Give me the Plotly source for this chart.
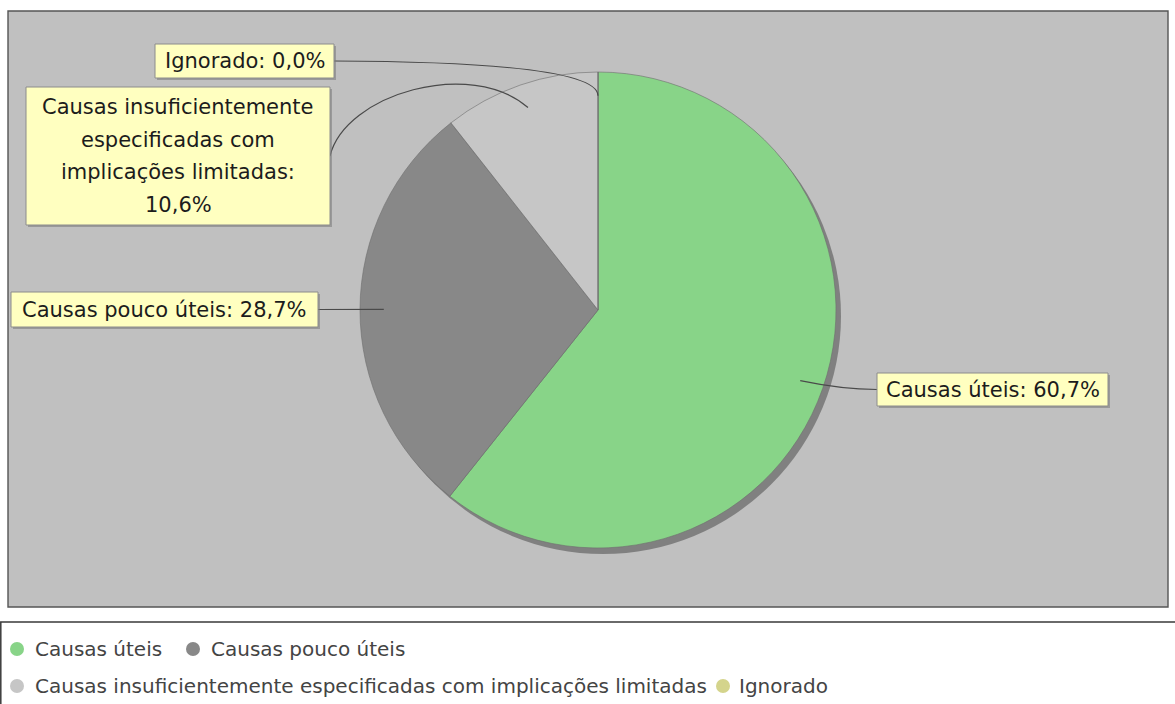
import math
import plotly.graph_objects as go

# ---------------- data ----------------
categories = [
    "Causas úteis",
    "Causas pouco úteis",
    "Causas insuficientemente especificadas com implicações limitadas",
    "Ignorado",
]
values = [60.7, 28.7, 10.6, 0.0]
slice_colors = ["#88D488", "#888888", "#C6C6C6", "#D4D48C"]
label_lines = [
    ["Causas úteis: 60,7%"],
    ["Causas pouco úteis: 28,7%"],
    ["Causas insuficientemente", "especificadas com", "implicações limitadas:", "10,6%"],
    ["Ignorado: 0,0%"],
]

# ---------------- layout (pixels) ----------------
W, H = 1175, 704
CX, CY, R = 598, 310, 238          # pie centre / radius
SHADOW_DX, SHADOW_DY = 5, 6
FONT = "DejaVu Sans"


def px(x):
    return x / W


def py(y):
    return 1 - y / H


# label boxes (x0, y0, x1, y1) in pixels, one per category
boxes = [
    (877, 373, 1108, 406),
    (11, 292, 318, 327),
    (26, 87, 330, 225),
    (155, 44, 334, 78),
]
line_pitch = 32.5

fig = go.Figure()

fig.add_trace(go.Pie(
    labels=categories,
    values=values,
    marker=dict(colors=slice_colors, line=dict(color="rgba(110,110,110,0.6)", width=1)),
    sort=False,
    direction="clockwise",
    rotation=0,
    textinfo="none",
    hoverinfo="label+percent",
    showlegend=False,
    domain=dict(x=[px(CX - R), px(CX + R)], y=[py(CY + R), py(CY - R)]),
))

shapes = []
# plot background
shapes.append(dict(type="rect", xref="paper", yref="paper", layer="below",
                   x0=px(8), x1=px(1168), y0=py(607), y1=py(11),
                   fillcolor="#C0C0C0", line=dict(color="#555555", width=1.4)))
# pie shadow
shapes.append(dict(type="circle", xref="paper", yref="paper", layer="below",
                   x0=px(CX - R + SHADOW_DX), x1=px(CX + R + SHADOW_DX),
                   y0=py(CY + R + SHADOW_DY), y1=py(CY - R + SHADOW_DY),
                   fillcolor="#808080", line=dict(width=0)))

# anchors from the data (mid-angle of every slice, 0.9 R)
total = sum(values)
anchors = []
cum = 0.0
for v in values:
    mid = cum + v / 2
    ang = math.radians(90 - 360 * mid / total)
    anchors.append((CX + 0.9 * R * math.cos(ang), CY - 0.9 * R * math.sin(ang)))
    cum += v

# connectors
for i, (ax, ay) in enumerate(anchors):
    x0, y0, x1, y1 = boxes[i]
    ym = (y0 + y1) / 2
    if ax > CX + 1:   # label on the right
        ex, ey = x0, ym
        path = f"M {px(ax)},{py(ay)} Q {px(ax + 0.55 * (ex - ax))},{py(ey)} {px(ex)},{py(ey)}"
    else:
        ex, ey = x1, ym
        if abs(ey - ay) < 3:
            path = f"M {px(ex)},{py(ey)} L {px(ax)},{py(ay)}"
        elif ax >= CX - 1:   # the zero slice at the top
            path = f"M {px(ex)},{py(ey)} Q {px(ax)},{py(ey + 1)} {px(ax)},{py(ay)}"
        else:
            path = (f"M {px(ex)},{py(ey)} C {px(ex + 15)},{py(ey - 62)} "
                    f"{px(ax - 57)},{py(ay - 50)} {px(ax)},{py(ay)}")
    shapes.append(dict(type="path", xref="paper", yref="paper", layer="above",
                       path=path, line=dict(color="#4a4a4a", width=1.2)))

# label boxes with shadows
for (x0, y0, x1, y1) in boxes:
    shapes.append(dict(type="rect", xref="paper", yref="paper", layer="above",
                       x0=px(x0 + 2), x1=px(x1 + 2), y0=py(y1 + 2), y1=py(y0 + 2),
                       fillcolor="rgba(120,120,120,0.55)", line=dict(width=0)))
    shapes.append(dict(type="rect", xref="paper", yref="paper", layer="above",
                       x0=px(x0), x1=px(x1), y0=py(y1), y1=py(y0),
                       fillcolor="#FFFFC0", line=dict(color="#8c8c8c", width=1)))

annotations = []
for i, lines in enumerate(label_lines):
    x0, y0, x1, y1 = boxes[i]
    xm = (x0 + x1) / 2
    n = len(lines)
    ymid = (y0 + y1) / 2
    for k, t in enumerate(lines):
        yy = ymid + (k - (n - 1) / 2) * line_pitch
        annotations.append(dict(xref="paper", yref="paper", x=px(xm), y=py(yy),
                                xanchor="center", yanchor="middle", showarrow=False,
                                text=t, font=dict(family=FONT, size=21, color="#1c1c1c")))

# legend box
shapes.append(dict(type="rect", xref="paper", yref="paper", layer="above",
                   x0=px(0.8), x1=px(1180), y0=py(712), y1=py(622),
                   fillcolor="rgba(0,0,0,0)", line=dict(color="#3a3a3a", width=1.5)))

legend_pos = [  # (marker x, row y, text x)
    (17, 649, 33),
    (193, 649, 209),
    (17, 686, 33),
    (723, 686, 737),
]
for i, (mx, ry, tx) in enumerate(legend_pos):
    shapes.append(dict(type="circle", xref="paper", yref="paper", layer="above",
                       x0=px(mx - 7), x1=px(mx + 7), y0=py(ry + 7), y1=py(ry - 7),
                       fillcolor=slice_colors[i], line=dict(width=0)))
    annotations.append(dict(xref="paper", yref="paper", x=px(tx), y=py(ry),
                            xanchor="left", yanchor="middle", showarrow=False,
                            text=categories[i],
                            font=dict(family=FONT, size=20, color="#444444")))

fig.update_layout(
    width=W, height=H, autosize=False,
    margin=dict(l=0, r=0, t=0, b=0),
    paper_bgcolor="white",
    showlegend=False,
    shapes=shapes,
    annotations=annotations,
)

fig.write_html(
    "out.html",
    config={"displayModeBar": False},
    post_script="document.body.style.margin='0';document.body.style.overflow='hidden';",
)
